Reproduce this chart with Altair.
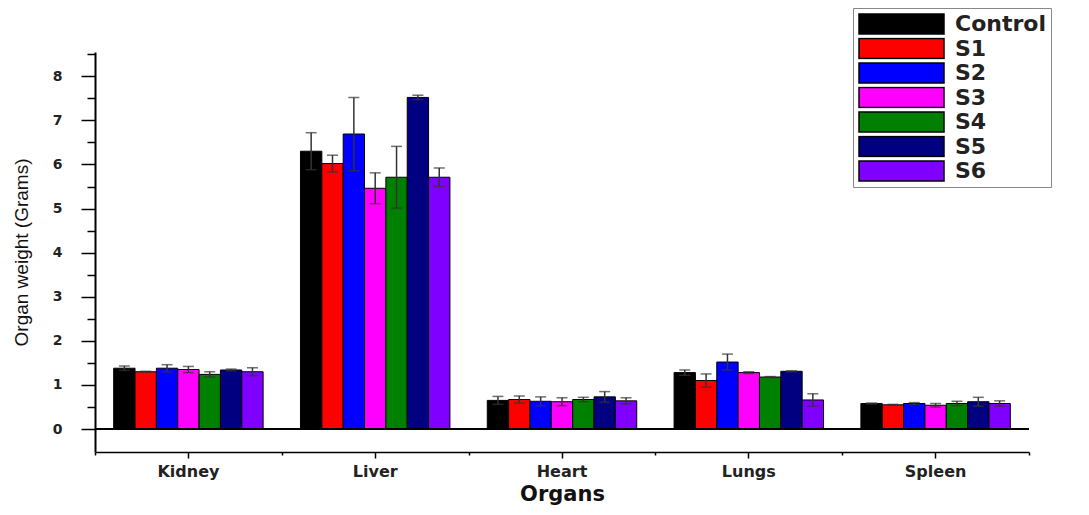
import altair as alt
import pandas as pd

organs = ["Kidney", "Liver", "Heart", "Lungs", "Spleen"]
groups = ["Control", "S1", "S2", "S3", "S4", "S5", "S6"]
colors = ["#000000", "#ff0000", "#0000ff", "#ff00ff", "#008000", "#000080", "#8000ff"]

# mean organ weight (grams) per group, in organ order
control = [1.38, 6.30, 0.65, 1.28, 0.58]
s1 = [1.30, 6.02, 0.67, 1.10, 0.55]
s2 = [1.38, 6.69, 0.63, 1.52, 0.58]
s3 = [1.35, 5.46, 0.62, 1.28, 0.54]
s4 = [1.24, 5.71, 0.67, 1.18, 0.58]
s5 = [1.34, 7.52, 0.73, 1.31, 0.62]
s6 = [1.30, 5.71, 0.64, 0.66, 0.58]

# error (± half-length of error bar)
control_err = [0.05, 0.42, 0.09, 0.06, 0.01]
s1_err = [0.01, 0.19, 0.08, 0.15, 0.01]
s2_err = [0.08, 0.83, 0.10, 0.18, 0.02]
s3_err = [0.07, 0.35, 0.09, 0.02, 0.04]
s4_err = [0.06, 0.70, 0.05, 0.01, 0.05]
s5_err = [0.02, 0.05, 0.12, 0.01, 0.10]
s6_err = [0.09, 0.21, 0.07, 0.14, 0.06]

y_major = [0, 1, 2, 3, 4, 5, 6, 7, 8]
y_minor = [0.5, 1.5, 2.5, 3.5, 4.5, 5.5, 6.5, 7.5, 8.5]

means = [control, s1, s2, s3, s4, s5, s6]
errs = [control_err, s1_err, s2_err, s3_err, s4_err, s5_err, s6_err]

rows = []
for g, m_list, e_list in zip(groups, means, errs):
    for o, m, e in zip(organs, m_list, e_list):
        rows.append({"organ": o, "group": g, "mean": m, "lo": m - e, "hi": m + e})
df = pd.DataFrame(rows)

FONT = "DejaVu Sans"

x_scale = alt.Scale(domain=organs, paddingInner=0, paddingOuter=0)
xo_scale = alt.Scale(domain=groups, paddingInner=0, paddingOuter=0.875)
y_scale = alt.Scale(domain=[-0.52, 8.55], nice=False, zero=False)

x_main_axis = alt.Axis(
    orient="bottom", title="Organs", labelAngle=0,
    labelFont=FONT, labelFontSize=16, labelFontWeight="bold", labelColor="#222",
    labelPadding=5, tickSize=6, tickWidth=1.5, tickColor="black",
    domainColor="black", domainWidth=1.5,
    titleFont=FONT, titleFontSize=21, titleFontWeight="bold", titleColor="#111",
    titleY=48, titleBaseline="alphabetic", grid=False,
)
x_minor_axis = alt.Axis(
    orient="bottom", title=None, labels=False, domain=False, tickBand="extent",
    tickSize=3, tickWidth=1.5, tickColor="black", grid=False,
)
y_main_axis = alt.Axis(
    orient="left", values=y_major, format="d", title="Organ weight (Grams)",
    labelFont=FONT, labelFontSize=14, labelFontWeight="bold", labelColor="#222",
    labelPadding=19, tickSize=14, tickWidth=1.5, tickColor="black",
    domainColor="black", domainWidth=2,
    titleFont="Liberation Sans Narrow, Liberation Sans", titleFontSize=19,
    titleFontWeight="normal", titleColor="#111",
    titleX=-74, titleY=200, titleAngle=270, titleAlign="center", titleBaseline="middle",
    grid=False,
)
y_minor_axis = alt.Axis(
    orient="left", values=y_minor, labels=False, domain=False, title=None,
    tickSize=8, tickWidth=1.5, tickColor="black", grid=False,
)

legend = alt.Legend(
    title=None, orient="none", legendX=758, legendY=-44,
    symbolType="M-1,-0.235H1V0.235H-1Z", symbolSize=7225, clipHeight=22,
    symbolStrokeColor="black", symbolStrokeWidth=1.5,
    labelFont=FONT, labelFontSize=22, labelFontWeight="bold", labelColor="#222",
    labelOffset=10, labelLimit=300, padding=5, rowPadding=2.5,
    strokeColor="#888", fillColor="white",
)

base = alt.Chart(df)

bars = base.mark_bar(stroke="black", strokeWidth=1).encode(
    x=alt.X("organ:N", scale=x_scale, sort=organs, axis=x_main_axis),
    xOffset=alt.XOffset("group:N", scale=xo_scale, sort=groups),
    y=alt.Y("mean:Q", scale=y_scale, axis=y_main_axis),
    color=alt.Color("group:N", scale=alt.Scale(domain=groups, range=colors), sort=groups, legend=legend),
)

err_rule = base.mark_rule(color="#333", strokeWidth=1.5).encode(
    x=alt.X("organ:N", scale=x_scale, sort=organs, axis=None),
    xOffset=alt.XOffset("group:N", scale=xo_scale, sort=groups),
    y=alt.Y("lo:Q", scale=y_scale, axis=y_minor_axis),
    y2="hi:Q",
)

cap_top = base.mark_tick(color="#333", orient="horizontal", size=11, thickness=1.5).encode(
    x=alt.X("organ:N", scale=x_scale, sort=organs, axis=x_minor_axis),
    xOffset=alt.XOffset("group:N", scale=xo_scale, sort=groups),
    y=alt.Y("hi:Q", scale=y_scale, axis=None),
)

cap_bot = base.mark_tick(color="#333", orient="horizontal", size=11, thickness=1.5).encode(
    x=alt.X("organ:N", scale=x_scale, sort=organs, axis=None),
    xOffset=alt.XOffset("group:N", scale=xo_scale, sort=groups),
    y=alt.Y("lo:Q", scale=y_scale, axis=None),
)

zero_rule = base.mark_rule(color="black", strokeWidth=1.5).encode(
    y=alt.YDatum(0, scale=y_scale, axis=None),
)

chart = (
    alt.layer(bars, err_rule, cap_top, cap_bot, zero_rule)
    .resolve_axis(x="independent", y="independent")
    .properties(
        width=934, height=400,
        autosize=alt.AutoSizeParams(type="none"),
        padding={"left": 87, "top": 44, "right": 44, "bottom": 55},
        background="white",
    )
    .configure_view(stroke=None)
)

chart.save("out.html", embed_options={"renderer": "svg", "actions": False})
